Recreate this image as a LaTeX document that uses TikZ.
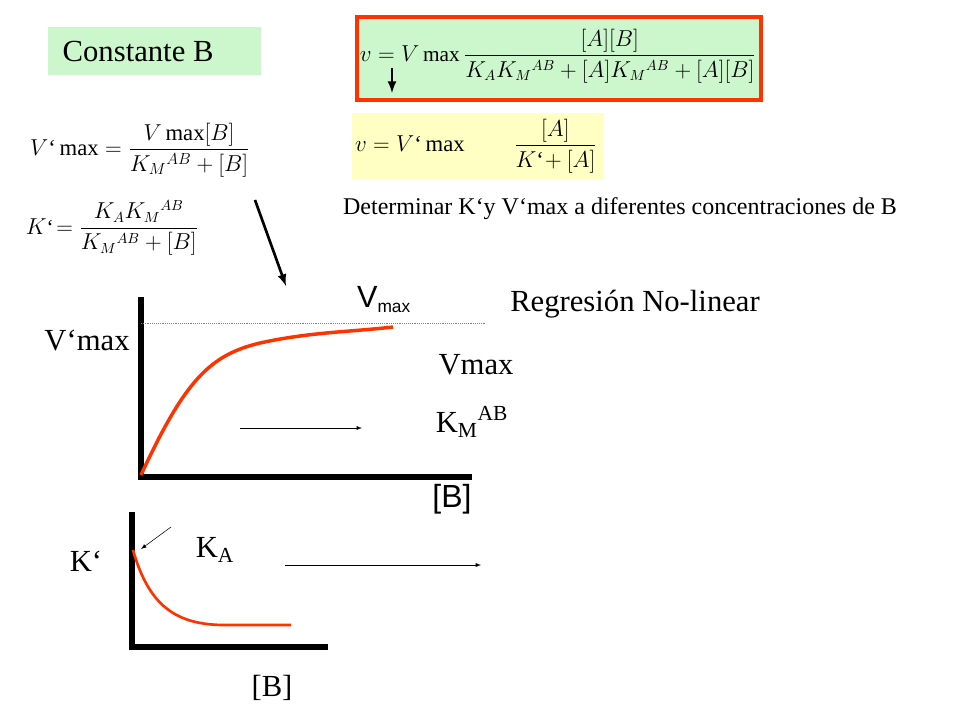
\documentclass[tikz,border=0pt]{standalone}
\usepackage{amsmath}
\usepackage{fontspec}
\setmainfont{Liberation Serif}
\setsansfont{Liberation Sans}
\usetikzlibrary{arrows}
\definecolor{boxgreen}{HTML}{CCF7CC}
\definecolor{boxyellow}{HTML}{FFFFC4}
\definecolor{curvered}{HTML}{FF3300}
\tikzset{
  axis/.style={line width=4pt},
  curve/.style={curvered,line width=2.6pt},
  big/.style={font=\fontsize{23}{27}\selectfont},
  eq/.style={font=\fontsize{16}{19}\selectfont}
}
\begin{document}
\begin{tikzpicture}[x=0.75pt,y=-0.75pt]
\useasboundingbox (0,0) rectangle (960,720);
% top boxes
\fill [boxgreen] (48,27) rectangle (261,75);
\node [big,anchor=west] (cbt) at (58,52) {Constante B};
\filldraw [fill=boxgreen,draw=curvered,line width=2.5pt] (357,17) rectangle (761,100);
\node [eq] (maineq) at (558,56)
  {$v=V\max\dfrac{[A][B]}{K_AK_M{}^{AB}+[A]K_M{}^{AB}+[A][B]}$};
\coordinate (dn1) at (392,68);
\coordinate (dn2) at (392,93);
\draw [-latex,line width=2pt] (dn1) -- (dn2);
\fill [boxyellow] (352,113) rectangle (604,180);
\node [font=\fontsize{17}{20}\selectfont] (yeq) at (476,146) {$v=V`\max\qquad\dfrac{[A]}{K`\!+[A]}$};
\node [font=\fontsize{17}{20}\selectfont] (veq) at (140,150) {$V`\max=\dfrac{V\max[B]}{K_M{}^{AB}+[B]}$};
\node [eq] (keq) at (112,228) {$K`\!=\dfrac{K_AK_M{}^{AB}}{K_M{}^{AB}+[B]}$};
\node [font=\fontsize{18}{21}\selectfont] (det) at (620,209) {Determinar K`y V`max a diferentes concentraciones de B};
\coordinate (p1) at (255,200);
\coordinate (p2) at (286,286);
\draw [-latex,line width=2pt] (p1) -- (p2);
% first plot
\coordinate (o1) at (141,477);
\coordinate (y1) at (141,297);
\coordinate (x1) at (472,477);
\draw [axis] (y1) -- (o1) -- (x1);
\coordinate (d1) at (141,323);
\coordinate (d2) at (485,323);
\draw [densely dotted,gray] (d1) -- (d2);
\draw [curve] (141,475) .. controls (185,380) and (210,355) .. (260,343) .. controls (310,332) and (350,332) .. (393,327);
\node [font=\sffamily\fontsize{23}{27}\selectfont] (vm) at (384,300) {V$_{\text{\sffamily\fontsize{13}{15}\selectfont max}}$};
\node [big] (vpm) at (87,341) {V`max};
\node [big] (reg) at (635,304) {Regresión No-linear};
\node [big] (vmx) at (476,365) {Vmax};
\node [big] (kmab) at (472,422) {K$_{\text{M}}$$^{\text{AB}}$};
\coordinate (a1) at (240,428);
\coordinate (a2) at (362,428);
\draw [-latex] (a1) -- (a2);
\node [font=\sffamily\fontsize{24}{28}\selectfont] (b1) at (452,499) {[B]};
% second plot
\coordinate (o2) at (132,647);
\coordinate (y2) at (132,512);
\coordinate (x2) at (328,647);
\draw [axis] (y2) -- (o2) -- (x2);
\draw [curve,line width=2pt] (133,550) .. controls (150,610) and (180,626) .. (230,625) -- (291,625);
\coordinate (s1) at (171,527);
\coordinate (s2) at (141,549);
\draw [-latex] (s1) -- (s2);
\node [big] (ka) at (215,550) {K$_{\text{A}}$};
\node [big] (kp) at (86,561) {K`};
\coordinate (a3) at (285,565);
\coordinate (a4) at (481,565);
\draw [-latex] (a3) -- (a4);
\node [big] (b2) at (272,688) {[B]};
\end{tikzpicture}
\end{document}
